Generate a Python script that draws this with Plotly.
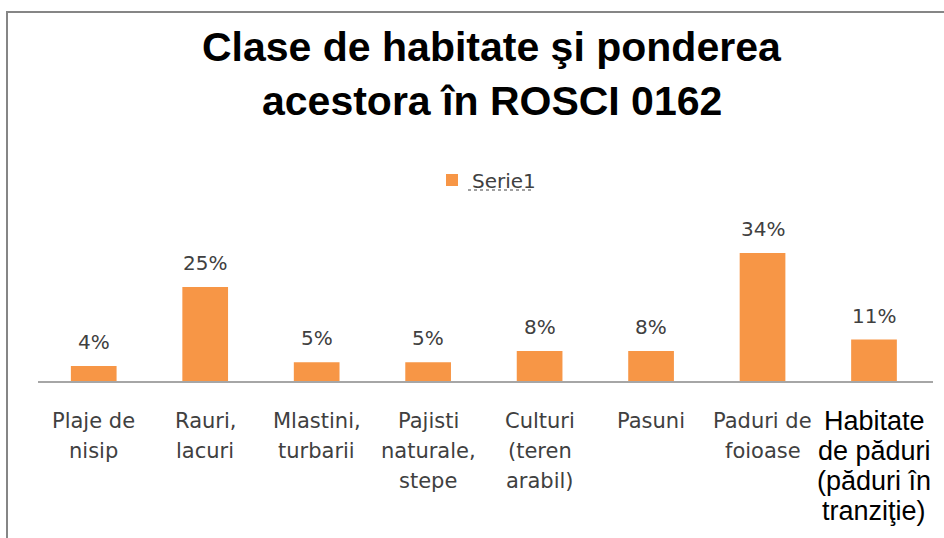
import plotly.graph_objects as go

categories = ["Plaje de nisip", "Rauri, lacuri", "Mlastini, turbarii", "Pajisti naturale, stepe",
              "Culturi (teren arabil)", "Pasuni", "Paduri de foioase",
              "Habitate de păduri (păduri în tranziţie)"]
label_lines = [["Plaje de", "nisip"], ["Rauri,", "lacuri"], ["Mlastini,", "turbarii"],
               ["Pajisti", "naturale,", "stepe"], ["Culturi", "(teren", "arabil)"],
               ["Pasuni"], ["Paduri de", "foioase"],
               ["Habitate", "de păduri", "(păduri în", "tranziţie)"]]
values = [4, 25, 5, 5, 8, 8, 34, 11]
series_name = "Serie1"
title_lines = ["Clase de habitate şi ponderea", "acestora în ROSCI 0162"]

W, H = 944, 538
L, R, T, B = 38, 11, 200, 157
PW, PH = W - L - R, H - T - B

def px_x(x):
    return (x - L) / PW

def px_y(y):
    return (H - B - y) / PH

fig = go.Figure()
fig.add_trace(go.Bar(x=categories, y=values, name=series_name,
                     marker=dict(color="#F79646", line=dict(width=0)),
                     showlegend=True))

ann = []
for c, v in zip(categories, values):
    ann.append(dict(x=c, y=v, xref="x", yref="y", text=f"{v}%", showarrow=False,
                    yanchor="bottom", yshift=10,
                    font=dict(family="DejaVu Sans", size=20, color="#404040")))
for i, (c, lines) in enumerate(zip(categories, label_lines)):
    last = i == len(categories) - 1
    for j, ln in enumerate(lines):
        ann.append(dict(x=c, y=0, xref="x", yref="paper", text=ln, showarrow=False,
                        yanchor="middle", yshift=-40 - 30 * j,
                        font=dict(family="Liberation Sans, Arial" if last else "DejaVu Sans",
                                  size=27 if last else 21,
                                  color="#000000" if last else "#404040")))
for j, ln in enumerate(title_lines):
    ann.append(dict(x=px_x(492), y=px_y(47 + 54 * j), xref="paper", yref="paper",
                    text=f"<b>{ln}</b>", showarrow=False, xanchor="center", yanchor="middle",
                    font=dict(family="Liberation Sans, Arial", size=41, color="#000000")))

shapes = [
    dict(type="rect", xref="paper", yref="paper", x0=px_x(7), x1=px_x(960), y0=px_y(12), y1=px_y(560),
         line=dict(color="#868686", width=2), fillcolor="rgba(0,0,0,0)"),
    dict(type="line", xref="paper", yref="paper", x0=px_x(468), x1=px_x(533), y0=px_y(190), y1=px_y(190),
         line=dict(color="#404040", width=1, dash="dot")),
]

fig.update_layout(
    width=W, height=H,
    margin=dict(l=L, r=R, t=T, b=B),
    paper_bgcolor="white", plot_bgcolor="white",
    bargap=0.59,
    annotations=ann,
    shapes=shapes,
    showlegend=True,
    legend=dict(orientation="h", x=px_x(432), xanchor="left", y=px_y(180), yanchor="middle",
                font=dict(family="DejaVu Sans", size=20, color="#404040"),
                itemwidth=30, bgcolor="rgba(0,0,0,0)"),
    xaxis=dict(showticklabels=False, showline=True, linecolor="#A6A6A6", linewidth=2,
               ticks="", showgrid=False, zeroline=False, fixedrange=True),
    yaxis=dict(visible=False, range=[0, 48.08], showgrid=False, zeroline=False),
)

fig.write_html("out.html", config={"displayModeBar": False},
               post_script="document.body.style.margin='0';document.body.style.overflow='hidden';")
